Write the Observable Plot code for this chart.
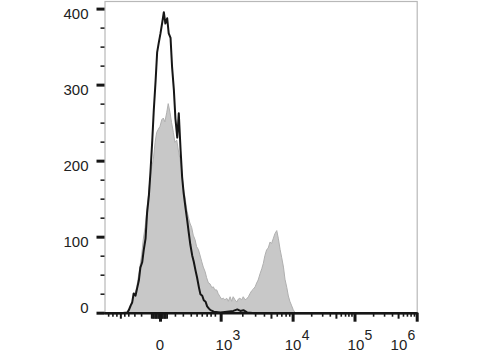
<!DOCTYPE html>
<html><head><meta charset="utf-8">
<script src="https://cdn.jsdelivr.net/npm/d3@7"></script>
<script src="https://cdn.jsdelivr.net/npm/@observablehq/plot@0.6"></script>
<style>html,body{margin:0;padding:0;background:#fff}</style>
</head><body><div id="chart"></div>
<script>
// x is the display channel (0–1024) of a biexponential fluorescence axis
const blackX = [0,51,73,78,84,89,94,100,106,111,116,122,127,133,138,144,149,155,160,166,171,176,182,188,193,198,204,209,215,220,226,231,237,242,248,253,258,264,270,275,280,286,291,297,302,308,313,319,324,330,335,341,346,357,379,421,434,444,454,466,494,1024];
const blackCount = [0,0,1,4,10,14,26,23,34,43,60,67,83,98,132,155,185,227,267,306,343,355,368,383,396,381,388,368,362,324,293,256,231,263,214,179,158,139,121,105,90,76,68,56,47,34,25,23,17,15,9,6,4,2,1,3,5,3,4,1,0,0];
const grayX = [0,77,84,94,106,116,122,127,133,138,144,149,155,160,166,171,176,182,188,193,198,204,209,215,220,226,231,237,242,248,253,258,264,270,275,280,286,291,297,302,308,313,319,324,330,335,341,346,352,357,362,368,373,379,384,390,395,401,406,412,417,422,428,434,439,444,450,455,461,466,472,477,483,488,494,499,504,510,516,521,526,532,537,543,548,554,559,565,570,576,581,587,592,598,603,608,614,619,625,1024];
const grayCount = [0,0,4,17,34,60,76,96,112,131,154,175,192,201,224,237,241,245,254,256,251,263,275,263,250,237,224,227,214,201,188,165,152,135,126,118,112,102,96,87,83,76,67,60,54,46,39,38,33,34,30,30,25,21,18,19,17,19,15,21,15,21,17,14,18,19,17,21,17,18,21,25,29,31,34,39,43,51,58,65,75,83,85,93,91,98,104,108,98,83,73,60,44,33,22,15,9,4,0,0];

const yMajor = [0,100,200,300,400];
const yMinor = [25,50,75,125,150,175,225,250,275,325,350,375];
const xMajor = [182,381,617,820,1024];
const xMid = [52,546,759,963];
const xMinor = [12,26,39,65,78,98,120,231,257,283,302,319,335,348,362,452,494,523,565,580,594,606,678,714,739,775,789,800,810,881,917,943,979,992,1004,1015];
const xDense = [153,157,160,164,167,170,174,177,180,184,187,190,194,197,200,204];
const xLabelAt = [180,390,617,823,964];
const xLabelBase = ["0","10","10","10","10"];
const xLabelExp = ["","3","4","5","6"];

const black = blackX.map((x,i)=>({x, y: blackCount[i]}));
const gray = grayX.map((x,i)=>({x, y: grayCount[i]}));
const labels = xLabelAt.map((x,i)=>({x, base: xLabelBase[i], exp: xLabelExp[i]}));
const blank = () => "";
const ink = "#161616";

const chart = Plot.plot({
  width: 480, height: 360,
  marginLeft: 104.5, marginRight: 63.3, marginTop: 1, marginBottom: 47.3,
  style: {fontFamily: "'Liberation Sans', Arial, sans-serif", background: "#fff", color: ink},
  x: {domain: [0,1024], label: null},
  y: {domain: [0,410], label: null},
  marks: [
    Plot.frame({stroke: "#b8b8b8", strokeWidth: 1.2}),
    Plot.areaY(gray, {x: "x", y: "y", fill: "#c8c8c8", stroke: "#b0b0b0", strokeWidth: 1, curve: "linear"}),
    Plot.lineY(black, {x: "x", y: "y", stroke: ink, strokeWidth: 2, curve: "linear"}),
    Plot.ruleY([0], {stroke: ink, strokeWidth: 2.5}),
    Plot.axisY(yMajor, {anchor: "left", tickSize: 8, strokeWidth: 3, stroke: ink, tickFormat: blank, label: null}),
    Plot.axisY(yMinor, {anchor: "left", tickSize: 4, strokeWidth: 1.5, stroke: ink, tickFormat: blank, label: null}),
    Plot.text(yMajor.filter(d => d === 0), {y: d => d, text: d => String(d), frameAnchor: "left", dx: -16.5, dy: -5.5, textAnchor: "end", fontSize: 15, fill: "#222"}),
    Plot.text(yMajor.filter(d => d !== 0), {y: d => d, text: d => String(d), frameAnchor: "left", dx: -16.5, dy: 5.5, textAnchor: "end", fontSize: 15, fill: "#222"}),
    Plot.axisX(xMajor, {anchor: "bottom", tickSize: 9, strokeWidth: 3, stroke: ink, tickFormat: blank, label: null}),
    Plot.axisX(xMid, {anchor: "bottom", tickSize: 6, strokeWidth: 2, stroke: ink, tickFormat: blank, label: null}),
    Plot.axisX(xDense, {anchor: "bottom", tickSize: 6, strokeWidth: 1.6, stroke: ink, tickFormat: blank, label: null}),
    Plot.axisX(xMinor, {anchor: "bottom", tickSize: 4, strokeWidth: 1.6, stroke: ink, tickFormat: blank, label: null}),
    Plot.text(labels, {x: "x", text: "base", frameAnchor: "bottom", dy: 37, fontSize: 15, fill: "#222"}),
    Plot.text(labels.filter(d => d.exp), {x: "x", text: "exp", frameAnchor: "bottom", dy: 27, dx: 12.5, fontSize: 14, fill: "#222"})
  ]
});
document.getElementById("chart").appendChild(chart);
</script>
</body></html>
